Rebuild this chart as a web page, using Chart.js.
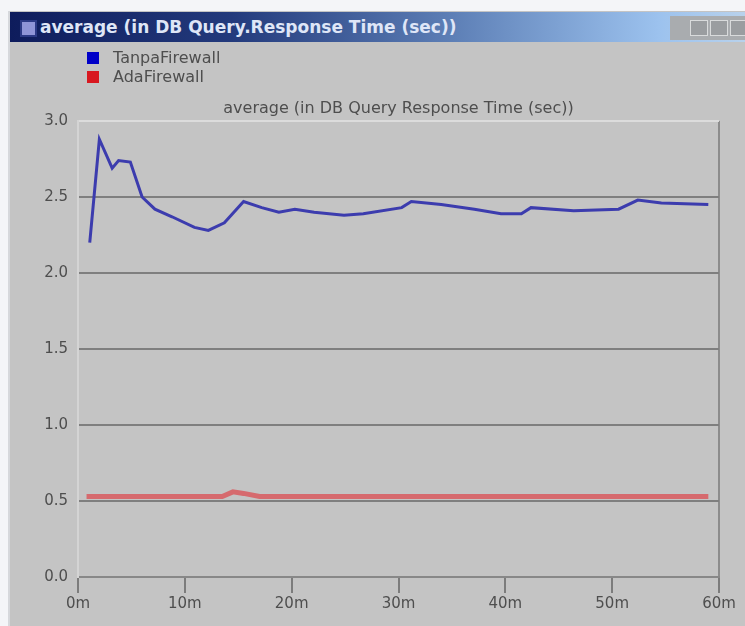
<!DOCTYPE html>
<html>
<head>
<meta charset="utf-8">
<script src="https://cdn.jsdelivr.net/npm/chart.js@4/dist/chart.umd.min.js"></script>
<style>
  html, body { margin: 0; padding: 0; background: #f4f5f8; }
  #win {
    position: absolute; left: 8px; top: 11px; width: 737px; height: 615px;
    background: #c4c4c4; border-left: 2px solid #d6d8dc;
  }
  #bar {
    position: absolute; left: 0; top: 1px; width: 737px; height: 30px;
    background: linear-gradient(to right, #0e1c5c 0%, #233a7c 30%, #5d7fb6 60%, #9cc2ee 88%, #b9d2ec 100%);
  }
  #icon {
    position: absolute; left: 10px; top: 8px; width: 13px; height: 13px;
    background: #8f95d8; border: 2px solid #2c3a86;
  }
  #caption {
    position: absolute; left: 30px; top: 5px; color: #dfe6f7;
    font: bold 17px "DejaVu Sans", sans-serif; white-space: nowrap;
  }
  #btns {
    position: absolute; left: 660px; top: 4px; width: 77px; height: 24px; background: #a9acaf;
  }
  .btn {
    position: absolute; top: 4px; width: 16px; height: 14px;
    border: 1px solid #d9dbdc; background: #9a9da0;
  }
  #cv { position: absolute; left: 0; top: 0; }
</style>
</head>
<body>
<div id="win">
  <div id="bar">
    <div id="icon"></div>
    <div id="caption">average (in DB Query.Response Time (sec))</div>
    <div id="btns">
      <div class="btn" style="left:20px"></div>
      <div class="btn" style="left:40px"></div>
      <div class="btn" style="left:60px"></div>
    </div>
  </div>
</div>
<canvas id="cv" width="745" height="626"></canvas>
<script>
// Simulation time (minutes) and average DB query response time (sec)
const tanpaTime = [1.1, 2.0, 3.2, 3.8, 4.9, 6.0, 7.2, 8.8, 10.9, 12.2, 13.7, 15.5, 17.2, 18.8, 20.3, 22.1, 24.9, 26.7, 30.3, 31.2, 34.0, 37.1, 39.6, 41.5, 42.4, 46.4, 50.6, 52.4, 54.6, 59.0];
const tanpaValue = [2.20, 2.88, 2.69, 2.74, 2.73, 2.50, 2.42, 2.37, 2.30, 2.28, 2.33, 2.47, 2.43, 2.40, 2.42, 2.40, 2.38, 2.39, 2.43, 2.47, 2.45, 2.42, 2.39, 2.39, 2.43, 2.41, 2.42, 2.48, 2.46, 2.45];

const adaTime = [0.8, 5.0, 10.0, 13.5, 14.5, 15.5, 17.0, 20.0, 30.0, 40.0, 50.0, 59.0];
const adaValue = [0.53, 0.53, 0.53, 0.53, 0.56, 0.55, 0.53, 0.53, 0.53, 0.53, 0.53, 0.53];

const yTicks = [0.0, 0.5, 1.0, 1.5, 2.0, 2.5, 3.0];
const xTicks = [0, 10, 20, 30, 40, 50, 60];

const seriesNames = ['TanpaFirewall', 'AdaFirewall'];
const seriesColors = ['#0000c8', '#d81820'];
const chartTitle = 'average (in DB Query Response Time (sec))';

function pairs(xs, ys) { return xs.map((x, i) => ({ x, y: ys[i] })); }

// Title centred over the plot area, plus a small square-swatch legend in the corner
const decorations = {
  id: 'decorations',
  afterDraw(chart) {
    const { ctx, chartArea } = chart;
    ctx.save();
    ctx.fillStyle = '#4e4e4e';
    ctx.font = '16px "DejaVu Sans", sans-serif';
    ctx.textAlign = 'center';
    ctx.textBaseline = 'middle';
    ctx.fillText(chartTitle, (chartArea.left + chartArea.right) / 2, 109);

    ctx.textAlign = 'left';
    ctx.font = '16px "DejaVu Sans", sans-serif';
    seriesNames.forEach((name, i) => {
      const y = 58 + i * 19;
      ctx.fillStyle = seriesColors[i];
      ctx.fillRect(87, y - 6, 12, 12);
      ctx.fillStyle = '#4e4e4e';
      ctx.fillText(name, 113, y + 1);
    });
    ctx.restore();
  }
};

const tickFont = { family: '"DejaVu Sans", sans-serif', size: 15 };

new Chart(document.getElementById('cv'), {
  type: 'line',
  data: {
    datasets: [
      {
        label: seriesNames[0],
        data: pairs(tanpaTime, tanpaValue),
        borderColor: '#3c3cae',
        borderWidth: 3,
        pointRadius: 0,
        tension: 0
      },
      {
        label: seriesNames[1],
        data: pairs(adaTime, adaValue),
        borderColor: '#d66a6e',
        borderWidth: 5,
        pointRadius: 0,
        tension: 0
      }
    ]
  },
  options: {
    responsive: false,
    animation: false,
    layout: { padding: { top: 121, right: 26, left: 0, bottom: 0 } },
    plugins: {
      legend: { display: false },
      title: { display: false },
      tooltip: { enabled: false }
    },
    scales: {
      x: {
        type: 'linear',
        min: 0, max: 60,
        afterBuildTicks: s => { s.ticks = xTicks.map(v => ({ value: v })); },
        afterFit: s => { s.height = 49; },
        ticks: {
          color: '#4e4e4e',
          font: tickFont,
          padding: 2,
          maxRotation: 0,
          callback: v => v + 'm'
        },
        grid: {
          color: c => (c.tick && c.tick.value === 60) ? '#8c8c8c' : 'rgba(0,0,0,0)',
          tickColor: '#7c7c7c',
          tickLength: 16,
          lineWidth: 2
        },
        border: { color: '#888', width: 2 }
      },
      y: {
        min: 0, max: 3,
        afterBuildTicks: s => { s.ticks = yTicks.map(v => ({ value: v })); },
        afterFit: s => { s.width = 78; },
        ticks: {
          color: '#4e4e4e',
          font: tickFont,
          padding: 6,
          callback: v => v.toFixed(1)
        },
        grid: {
          color: c => (c.tick && c.tick.value === 3) ? '#dcdcdc' : (c.tick && c.tick.value === 0 ? 'rgba(0,0,0,0)' : '#7f7f7f'),
          lineWidth: 2,
          tickLength: 4,
          tickColor: '#c4c4c4'
        },
        border: { color: '#d4d4d4', width: 2 }
      }
    }
  },
  plugins: [decorations]
});
</script>
</body>
</html>
